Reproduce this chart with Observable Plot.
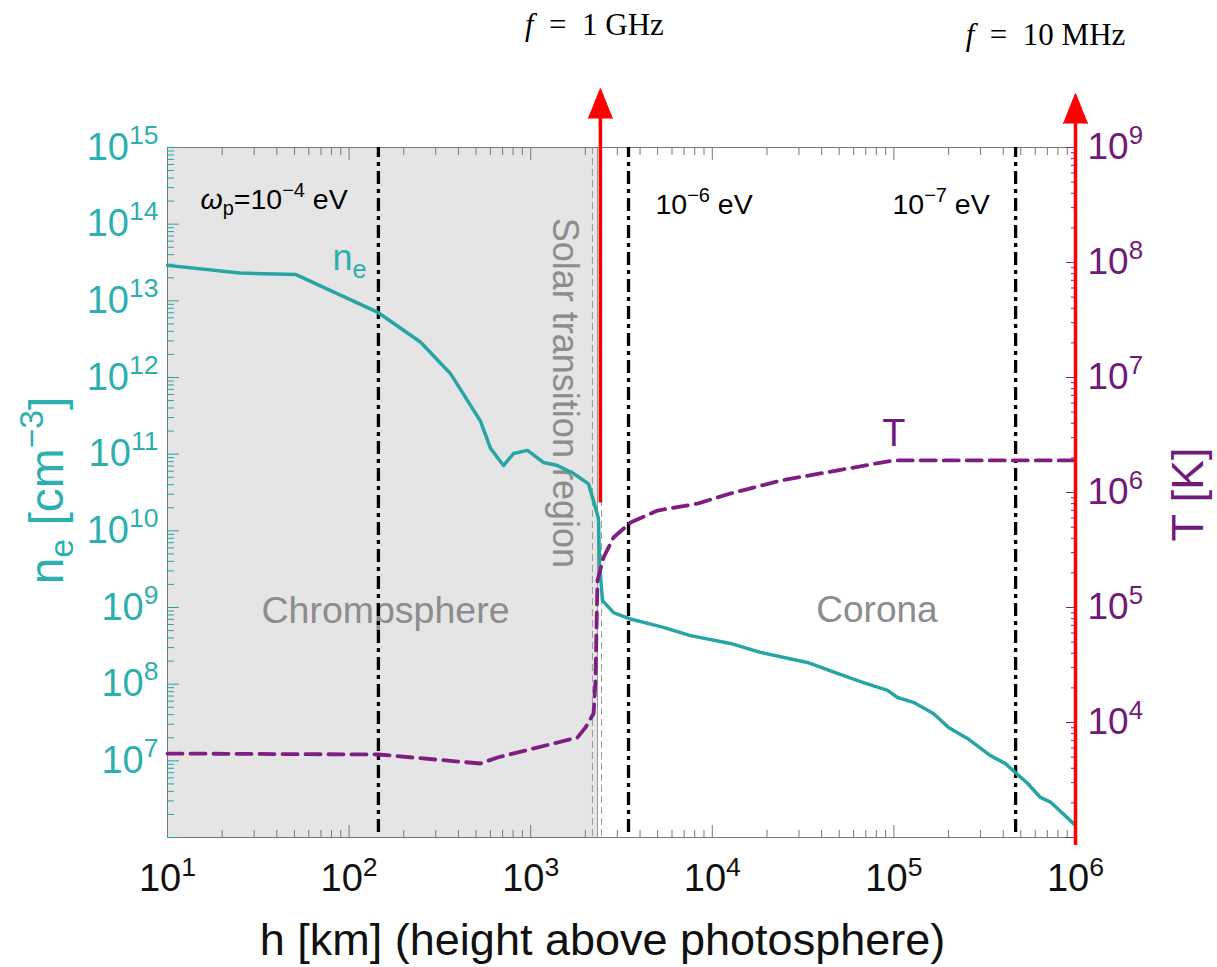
<!DOCTYPE html>
<html><head><meta charset="utf-8">
<script src="https://cdn.jsdelivr.net/npm/d3@7"></script>
<script src="https://cdn.jsdelivr.net/npm/@observablehq/plot@0.6"></script>
<style>html,body{margin:0;padding:0;background:#fff}#chart svg{display:block}</style>
</head><body><div id="chart"></div>
<script>
// ---- data ----
const neHeightKm = [10,25,51,145,247,361,529,601,708,804,960,1175,1405,1722,2081,2274,2362,2392,2485,2858,3456,5385,7585,12590,18400,33400,48900,68000,92300,104700,128000,165000,200000,254000,340000,411000,468000,544000,641000,728000,1000000];
const electronDensity = [2.9e13,2.3e13,2.2e13,7.0e12,2.9e12,1.13e12,2.7e11,1.19e11,7.1e10,1.02e11,1.12e11,7.8e10,7.1e10,5.6e10,4.1e10,2.0e10,1.45e10,3.75e9,1.23e9,8.6e8,7.2e8,5.5e8,4.3e8,3.4e8,2.6e8,1.92e8,1.38e8,1.05e8,8.3e7,6.7e7,5.8e7,4.15e7,2.72e7,1.96e7,1.17e7,9.2e6,7.0e6,5.1e6,3.33e6,2.9e6,1.44e6];
const tHeightKm = [10,145,529,656,1811,2005,2219,2274,2333,2518,2858,3545,4993,8280,12590,23750,99500,1000000];
const temperature = [5370,5270,4400,4960,7410,9060,11970,23200,1.72e5,2.72e5,4.06e5,5.48e5,6.97e5,8.0e5,9.8e5,1.27e6,1.9e6,1.9e6];
const plasmaLineHeights = [145, 3456, 468000];
const plasmaLabels = ["~{ω}_{p}=10^{−4} eV", "10^{−6} eV", "10^{−7} eV"];
const transitionEdges = [2188, 2455];
const transitionCenter = [2333];
const freqHeights = [2420, 1000000];
const freqLabels = ["~{f}  =  1 GHz", "~{f}  =  10 MHz"];
const xLabel = "h [km] (height above photosphere)";
const yLabel = "n_{e} [cm^{−3}]";
const y2Label = "T [K]";

// ---- helpers ----
const logT0 = 3, logT1 = 9, logN0 = 6, logN1 = 15;
const tToNe = T => Math.pow(10, logN0 + (Math.log10(T) - logT0) * (logN1 - logN0) / (logT1 - logT0));
const decades = (a, b) => d3.range(a, b + 1).map(e => Math.pow(10, e));
const minors = (a, b) => d3.range(a, b).flatMap(e => d3.range(2, 10).map(k => k * Math.pow(10, e)));
const pow10 = d => `10^{${Math.round(Math.log10(d))}}`;

const neRows = neHeightKm.map((h, i) => ({h, ne: electronDensity[i]}));
const tRows = tHeightKm.map((h, i) => ({h, T: temperature[i]}));

const teal = "#27a5a5", tealText = "#2eafaf", purple = "#7d1e80", purpleText = "#711b79";
const grey = "#8c8c8c", frameGrey = "#777777", red = "#ff0000";

const plot = Plot.plot({
  width: 1217, height: 967,
  marginTop: 147, marginBottom: 130, marginLeft: 167, marginRight: 142,
  style: {fontFamily: "'Liberation Sans', Arial, sans-serif", background: "white", overflow: "visible"},
  x: {type: "log", domain: [10, 1e6]},
  y: {type: "log", domain: [1e6, 1e15]},
  marks: [
    Plot.rect([{x1: 10, x2: transitionCenter[0]}], {x1: "x1", x2: "x2", fill: "#e5e5e5"}),
    Plot.text(["Chrompsphere"], {x: 158.6, y: 9.0e8, text: d => d, fontSize: 37.5, fill: grey}),
    Plot.text(["Corona"], {x: 80700, y: 9.1e8, text: d => d, fontSize: 37, fill: grey}),
    Plot.text(["Solar transition region"], {x: 1545, y: 6.3e11, text: d => d, rotate: 90, fontSize: 36, fill: grey}),
    Plot.ruleX(transitionEdges, {stroke: "#999", strokeWidth: 1, strokeDasharray: "7,4"}),
    Plot.ruleX(transitionCenter, {stroke: "#999", strokeWidth: 1}),
    Plot.frame({stroke: frameGrey, strokeWidth: 1}),
    // axis ticks (inward)
    Plot.axisX(decades(1, 6), {anchor: "bottom", tickSize: 12, dy: -12, fill: "none", stroke: frameGrey, label: null}),
    Plot.axisX(minors(1, 6), {anchor: "bottom", tickSize: 7, dy: -7, fill: "none", stroke: frameGrey, label: null}),
    Plot.axisX(decades(1, 6), {anchor: "top", tickSize: 12, dy: 12, fill: "none", stroke: frameGrey, label: null}),
    Plot.axisX(minors(1, 6), {anchor: "top", tickSize: 7, dy: 7, fill: "none", stroke: frameGrey, label: null}),
    Plot.axisY(decades(6, 15), {anchor: "left", tickSize: 12, dx: 12, fill: "none", stroke: teal, label: null}),
    Plot.axisY(minors(6, 15), {anchor: "left", tickSize: 7, dx: 7, fill: "none", stroke: teal, label: null}),
    Plot.axisY(decades(3, 9).map(tToNe), {anchor: "right", tickSize: 10, dx: -10, fill: "none", stroke: purple, label: null}),
    Plot.axisY(minors(3, 9).map(tToNe), {anchor: "right", tickSize: 5, dx: -5, fill: "none", stroke: purple, label: null}),
    // tick labels
    Plot.axisX(decades(1, 6), {anchor: "bottom", tickSize: 0, tickPadding: 27, tickFormat: pow10, fontSize: 38, fill: "#111", label: null}),
    Plot.axisY(decades(7, 15), {anchor: "left", tickSize: 0, tickPadding: 9, tickFormat: pow10, fontSize: 38, fill: tealText, label: null}),
    Plot.text(decades(4, 9), {y: d => tToNe(d), text: pow10, frameAnchor: "right", textAnchor: "start", lineAnchor: "middle", dx: 12, fontSize: 37, fill: purpleText}),
    // plasma-frequency lines
    Plot.ruleX(plasmaLineHeights, {y1: 1.16e6, y2: 1e15, stroke: "black", strokeWidth: 3.3, strokeDasharray: "13,5,4,5"}),
    // curves
    Plot.line(neRows, {x: "h", y: "ne", stroke: teal, strokeWidth: 3.5}),
    Plot.line(tRows, {x: "h", y: d => tToNe(d.T), stroke: purple, strokeWidth: 3.8, strokeDasharray: "15,8"}),
    // frequency arrows
    Plot.ruleX([freqHeights[0]], {y1: 2.3e10, y2: 2.39e15, stroke: red, strokeWidth: 3.5}),
    Plot.ruleX([freqHeights[1]], {y1: 7.87e5, y2: 2.05e15, stroke: red, strokeWidth: 3.5}),
    Plot.vector([{h: freqHeights[0], y: 2.39e15}, {h: freqHeights[1], y: 2.05e15}], {x: "h", y: "y", length: 30, r: 12, shape: "spike", anchor: "start", fill: red, stroke: red, strokeWidth: 1}),
    Plot.text([freqLabels[0]], {x: freqHeights[0], frameAnchor: "top", lineAnchor: "middle", dx: -6, dy: -122, text: d => d, fontSize: 31, fontFamily: "'Liberation Serif', serif", fill: "black"}),
    Plot.text([freqLabels[1]], {x: freqHeights[1], frameAnchor: "top", lineAnchor: "middle", dx: -30, dy: -112, text: d => d, fontSize: 31, fontFamily: "'Liberation Serif', serif", fill: "black"}),
    // annotations
    Plot.text([plasmaLabels[0]], {x: 15.2, y: 2.07e14, text: d => d, textAnchor: "start", fontSize: 28.5, fill: "black"}),
    Plot.text([plasmaLabels[1]], {x: 4864, y: 1.78e14, text: d => d, textAnchor: "start", fontSize: 28.5, fill: "black"}),
    Plot.text([plasmaLabels[2]], {x: 98200, y: 1.78e14, text: d => d, textAnchor: "start", fontSize: 28.5, fill: "black"}),
    Plot.text(["n_{e}"], {x: 81, y: 3.6e13, text: d => d, textAnchor: "start", fontSize: 36, fill: tealText}),
    Plot.text(["T"], {x: 1.0e5, y: tToNe(3.26e6), text: d => d, fontSize: 38, fill: purpleText}),
    // axis titles
    Plot.text([xLabel], {frameAnchor: "bottom", lineAnchor: "top", textAnchor: "middle", dx: -19, dy: 86, text: d => d, fontSize: 45, fill: "#111"}),
    Plot.text([yLabel], {frameAnchor: "left", textAnchor: "middle", lineAnchor: "middle", dx: -120, dy: -2, rotate: -90, text: d => d, fontSize: 48, fill: tealText}),
    Plot.text([y2Label], {frameAnchor: "right", textAnchor: "middle", lineAnchor: "middle", dx: 113, dy: 2, rotate: -90, text: d => d, fontSize: 45, fill: purpleText})
  ]
});

document.getElementById("chart").appendChild(plot);

// convert ^{..} _{..} ~{..} markup into real SVG tspans
function richText(svg) {
  svg.querySelectorAll("text").forEach(t => {
    const s = t.textContent;
    if (!/[\^_~]\{/.test(s)) return;
    const fs = parseFloat(getComputedStyle(t).fontSize) || 16;
    const parts = []; let last = 0; const re = /([\^_~])\{([^}]*)\}/g; let m;
    while ((m = re.exec(s))) {
      if (m.index > last) parts.push({k: "", s: s.slice(last, m.index)});
      parts.push({k: m[1], s: m[2]});
      last = re.lastIndex;
    }
    if (last < s.length) parts.push({k: "", s: s.slice(last)});
    while (t.firstChild) t.removeChild(t.firstChild);
    t.setAttribute("xml:space", "preserve");
    t.style.whiteSpace = "pre";
    let cur = 0;
    for (const p of parts) {
      const ts = document.createElementNS("http://www.w3.org/2000/svg", "tspan");
      const target = p.k === "^" ? -0.42 * fs : p.k === "_" ? 0.22 * fs : 0;
      if (target !== cur) ts.setAttribute("dy", (target - cur).toFixed(2));
      cur = target;
      if (p.k === "^" || p.k === "_") ts.setAttribute("font-size", (0.7 * fs).toFixed(2));
      if (p.k === "~") ts.setAttribute("font-style", "italic");
      ts.textContent = p.s;
      t.appendChild(ts);
    }
  });
}
richText(plot);
</script>
</body></html>
